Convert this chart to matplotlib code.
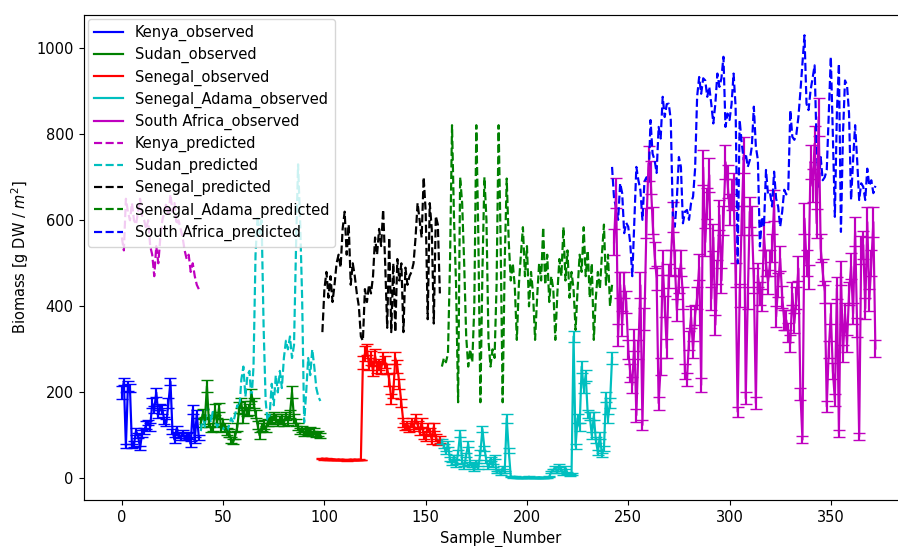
import numpy as np
import matplotlib
matplotlib.use("Agg")
import matplotlib.pyplot as plt
from matplotlib.lines import Line2D

# ---------------- data ----------------
kenya_start = 0
kenya_obs = [200, 225, 75, 215, 210, 75, 80, 110, 100, 70, 105, 110, 125, 130, 120, 175, 160, 200, 150, 165,
             160, 135, 130, 175, 225, 110, 90, 115, 100, 95, 105, 95, 100, 100, 80, 160, 90, 150, 95]
kenya_err = [15, 8, 5, 12, 10, 5, 6, 8, 5, 5, 8, 7, 9, 6, 10, 12, 8, 10, 9, 7,
             10, 8, 9, 12, 8, 6, 7, 8, 6, 5, 7, 6, 5, 8, 6, 10, 7, 9, 6]
kenya_pred = [560, 530, 650, 620, 600, 640, 600, 590, 620, 650, 610, 600, 580, 600, 540, 520, 470, 540, 500, 560,
              600, 620, 640, 610, 660, 620, 640, 590, 600, 580, 560, 530, 510, 520, 480, 500, 470, 450, 440]

sudan_start = 39
sudan_obs = [130, 150, 135, 215, 130, 115, 120, 160, 130, 165, 115, 130, 120, 110, 105, 90, 85, 100, 120, 165,
             175, 140, 170, 155, 160, 195, 175, 150, 125, 100, 120, 125, 115, 130, 140, 135, 145, 140, 130, 135,
             140, 130, 145, 135, 150, 200, 140, 130, 120, 110, 115, 105, 110, 108, 112, 105, 110, 102, 105, 100]
sudan_err = [10, 12, 8, 14, 10, 8, 9, 12, 10, 11, 8, 9, 10, 8, 9, 7, 6, 8, 10, 12,
             12, 10, 11, 10, 12, 14, 12, 10, 9, 8, 9, 10, 8, 9, 10, 9, 10, 9, 8, 9,
             10, 8, 9, 10, 9, 14, 10, 9, 8, 7, 8, 6, 7, 6, 7, 6, 7, 5, 6, 5]
sudan_pred = [110, 150, 120, 180, 150, 130, 160, 140, 120, 130, 125, 115, 120, 110, 125, 140, 130, 150, 170, 160,
              230, 260, 190, 240, 250, 180, 260, 520, 610, 570, 600, 350, 180, 130, 150, 220, 170, 240, 200, 250,
              210, 280, 320, 300, 330, 280, 310, 540, 730, 600, 420, 130, 200, 280, 240, 300, 260, 210, 190, 180]

senegal_start = 99
senegal_obs = [46, 45, 46, 45, 44, 45, 44, 43, 44, 43, 44, 43, 42, 43, 44, 43, 44, 43, 44, 43,
               270, 290, 300, 265, 280, 250, 285, 260, 265, 255, 280, 270, 255, 230, 185, 200, 280, 260, 220, 175,
               130, 120, 125, 115, 130, 120, 140, 125, 110, 130, 100, 95, 120, 110, 90, 120, 95, 85, 90]
senegal_err = [1, 1, 1, 1, 1, 1, 1, 1, 1, 1, 1, 1, 1, 1, 1, 1, 1, 1, 1, 1,
               15, 18, 12, 14, 16, 12, 15, 14, 12, 13, 15, 14, 12, 16, 12, 14, 15, 16, 12, 10,
               10, 8, 9, 8, 10, 9, 10, 9, 8, 10, 8, 9, 10, 8, 9, 10, 8, 7, 8]
senegal_pred = [340, 440, 480, 420, 470, 410, 450, 500, 520, 490, 580, 620, 520, 590, 450, 500, 470, 430, 400, 330,
                320, 440, 410, 450, 430, 470, 560, 520, 580, 540, 625, 500, 350, 560, 340, 500, 340, 510, 460, 500,
                340, 490, 450, 470, 480, 500, 560, 640, 600, 560, 700, 620, 370, 640, 580, 360, 610, 590, 430]

adama_start = 158
adama_obs = [85, 75, 60, 80, 45, 35, 50, 30, 60, 105, 40, 25, 55, 80, 35, 30, 20, 40, 25, 60,
             115, 70, 40, 25, 45, 30, 50, 15, 20, 10, 25, 15, 140, 65, 5, 3, 4, 2, 3, 1,
             2, 3, 2, 4, 2, 3, 1, 2, 3, 2, 1, 2, 3, 4, 15, 20, 25, 15, 30, 20,
             10, 25, 12, 8, 10, 330, 75, 140, 120, 260, 210, 240, 150, 145, 100, 145, 90, 60, 100, 55,
             70, 190, 140, 175, 280]
adama_err = [6, 5, 4, 6, 4, 3, 4, 3, 5, 8, 4, 3, 5, 6, 3, 3, 2, 4, 3, 5,
             8, 6, 4, 3, 4, 3, 4, 2, 2, 2, 3, 2, 10, 5, 1, 1, 1, 1, 1, 1,
             1, 1, 1, 1, 1, 1, 1, 1, 1, 1, 1, 1, 1, 1, 3, 3, 4, 3, 4, 3,
             2, 3, 2, 2, 2, 12, 6, 10, 9, 14, 12, 13, 10, 10, 8, 10, 7, 5, 8, 5,
             6, 12, 10, 11, 14]
adama_pred = [260, 280, 270, 290, 500, 821, 600, 450, 177, 700, 640, 500, 330, 260, 300, 270, 400, 821, 560, 177,
              480, 700, 600, 320, 260, 300, 280, 450, 821, 550, 177, 500, 697, 550, 460, 500, 445, 322, 450, 520,
              584, 470, 540, 400, 480, 430, 322, 420, 500, 460, 584, 450, 520, 410, 470, 440, 322, 430, 510, 470,
              584, 460, 530, 420, 480, 440, 345, 440, 520, 480, 584, 470, 530, 420, 500, 322, 420, 480, 440, 520,
              590, 450, 520, 400, 450]

safrica_start = 243
safrica_obs = [549, 663, 333, 450, 360, 449, 410, 300, 245, 217, 322, 147, 300, 449, 124, 370, 593, 732, 700, 600,
               520, 465, 175, 260, 502, 400, 303, 470, 502, 607, 500, 391, 460, 500, 420, 248, 230, 320, 375, 300,
               380, 420, 491, 217, 723, 549, 640, 705, 418, 560, 357, 480, 612, 460, 600, 735, 690, 625, 660, 671,
               472, 155, 425, 600, 751, 186, 420, 620, 600, 460, 175, 472, 430, 415, 563, 500, 457, 500, 535, 635,
               376, 450, 511, 422, 368, 368, 340, 314, 430, 361, 420, 488, 197, 90, 604, 500, 468, 736, 680, 778,
               593, 840, 535, 480, 434, 167, 300, 383, 250, 183, 442, 105, 477, 291, 383, 314, 430, 493, 383, 574,
               350, 97, 531, 543, 395, 596, 415, 500, 596, 302]
safrica_err = [30, 35, 25, 30, 28, 30, 25, 22, 20, 18, 25, 15, 22, 30, 12, 25, 35, 40, 38, 32,
               30, 28, 15, 20, 30, 25, 22, 28, 30, 35, 30, 25, 28, 30, 26, 18, 16, 22, 25, 20,
               24, 26, 30, 16, 40, 32, 36, 40, 26, 32, 24, 28, 35, 28, 34, 40, 38, 35, 36, 38,
               28, 12, 26, 34, 42, 14, 26, 35, 34, 28, 14, 28, 26, 25, 32, 30, 28, 30, 32, 36,
               24, 28, 30, 26, 24, 24, 22, 20, 26, 24, 26, 30, 14, 8, 35, 30, 28, 40, 38, 42,
               34, 45, 32, 30, 26, 12, 20, 24, 18, 14, 26, 8, 28, 20, 24, 20, 26, 30, 24, 34,
               22, 8, 32, 32, 24, 35, 26, 30, 35, 20]
safrica_pred_start = 242
safrica_pred = [724, 650, 630, 601, 686, 663, 570, 594, 585, 546, 470, 600, 724, 693, 670, 601, 690, 700, 686, 833,
                755, 740, 710, 817, 790, 887, 840, 870, 871, 833, 608, 585, 650, 747, 724, 593, 620, 624, 601, 640,
                655, 720, 887, 933, 894, 930, 925, 887, 910, 870, 825, 871, 941, 910, 930, 980, 817, 848, 833, 870,
                941, 864, 500, 833, 780, 740, 755, 724, 740, 771, 864, 771, 740, 539, 608, 585, 717, 660, 663, 632,
                713, 650, 632, 585, 620, 671, 660, 671, 856, 794, 787, 800, 840, 900, 964, 1030, 871, 856, 902, 930,
                960, 771, 678, 747, 693, 700, 717, 850, 980, 800, 608, 850, 964, 573, 800, 925, 914, 848, 647, 740,
                821, 740, 647, 686, 678, 647, 720, 680, 693, 663, 680]

observed = [
    ("Kenya_observed", kenya_start, kenya_obs, kenya_err, "b"),
    ("Sudan_observed", sudan_start, sudan_obs, sudan_err, "g"),
    ("Senegal_observed", senegal_start, senegal_obs, senegal_err, "r"),
    ("Senegal_Adama_observed", adama_start, adama_obs, adama_err, "c"),
    ("South Africa_observed", safrica_start, safrica_obs, safrica_err, "m"),
]
predicted = [
    ("Kenya_predicted", kenya_start, kenya_pred, "m"),
    ("Sudan_predicted", sudan_start, sudan_pred, "c"),
    ("Senegal_predicted", senegal_start, senegal_pred, "k"),
    ("Senegal_Adama_predicted", adama_start, adama_pred, "g"),
    ("South Africa_predicted", safrica_pred_start, safrica_pred, "b"),
]

# ---------------- plot ----------------
S = 1.05  # overall scale of the original rendering
plt.rcParams["font.size"] = 10 * S
plt.rcParams["xtick.major.size"] = 3.5 * S
plt.rcParams["ytick.major.size"] = 3.5 * S
plt.rcParams["xtick.major.pad"] = 3.5 * S
plt.rcParams["ytick.major.pad"] = 3.5 * S
plt.rcParams["axes.linewidth"] = 0.8 * S
plt.rcParams["lines.linewidth"] = 1.5 * S

fig = plt.figure(figsize=(8.98, 5.47), dpi=100)
ax = fig.add_axes([0.0935, 0.086, 0.928, 0.887])

handles, labels = [], []
for label, start, vals, err, col in observed:
    x = np.arange(start, start + len(vals))
    ax.errorbar(x, vals, yerr=err, color=col, capsize=4 * S, linewidth=1.5 * S)
    handles.append(Line2D([], [], color=col, linewidth=1.5 * S))
    labels.append(label)

for label, start, vals, col in predicted:
    x = np.arange(start, start + len(vals))
    ln, = ax.plot(x, vals, "--", color=col, linewidth=1.5 * S)
    handles.append(ln)
    labels.append(label)

ax.set_xlim(-18.7, 392.7)
ax.set_ylim(-50, 1077.6)
ax.spines["right"].set_visible(False)
ax.set_xlabel("Sample_Number")
ax.set_ylabel("Biomass [g DW / $m^2$]")
ax.legend(handles, labels, loc="upper left", labelspacing=0.41,
          borderaxespad=0.3)

fig.savefig("out.png", dpi=100)
